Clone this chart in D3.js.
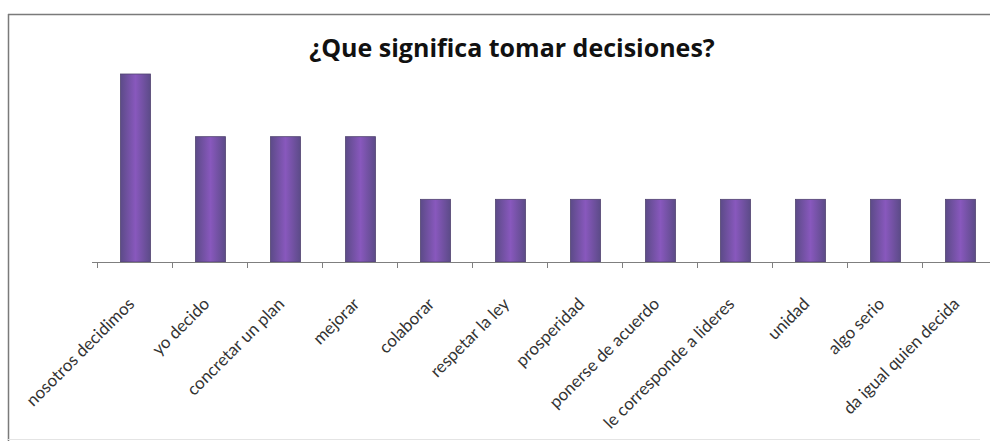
<!DOCTYPE html>
<html lang="es">
<head>
<meta charset="UTF-8">
<title>¿Que significa tomar decisiones?</title>
<script src="https://d3js.org/d3.v7.min.js"></script>
<style>
  body { margin: 0; background: #fff; }
  .label { font-family: Lato, "Open Sans", sans-serif; }
  .title { font-family: "Open Sans", sans-serif; }
</style>
</head>
<body>
<svg class="chart" width="990" height="447"></svg>
<script>
const categories = ['nosotros decidimos', 'yo decido', 'concretar un plan', 'mejorar', 'colaborar',
  'respetar la ley', 'prosperidad', 'ponerse de acuerdo', 'le corresponde a lideres', 'unidad',
  'algo serio', 'da igual quien decida']
const values = [3, 2, 2, 2, 1, 1, 1, 1, 1, 1, 1, 1]
const title = '¿Que significa tomar decisiones?'

const svg = d3.select('.chart')
const baseY = 262

// marco del grafico (arriba e izquierda marcados, abajo tenue)
svg.append('line')
  .attr('x1', 8).attr('x2', 990).attr('y1', 14.5).attr('y2', 14.5)
  .attr('stroke', '#7a7a7a').attr('stroke-width', 1.5)
svg.append('line')
  .attr('x1', 8.5).attr('x2', 8.5).attr('y1', 14).attr('y2', 441)
  .attr('stroke', '#7a7a7a').attr('stroke-width', 1.5)
svg.append('line')
  .attr('x1', 8).attr('x2', 980).attr('y1', 439.5).attr('y2', 439.5)
  .attr('stroke', '#e4e4e4')

// degradado de las barras
const grad = svg.append('defs').append('linearGradient')
  .attr('id', 'barGrad')
  .attr('x1', '0%').attr('x2', '100%').attr('y1', '0%').attr('y2', '0%')
grad.append('stop').attr('offset', '0%').attr('stop-color', '#5c4b88')
grad.append('stop').attr('offset', '50%').attr('stop-color', '#8858bd')
grad.append('stop').attr('offset', '100%').attr('stop-color', '#5c4b88')

const xScale = d3.scaleBand()
  .domain(categories)
  .range([97, 997])
  .paddingInner(0.6)
  .paddingOuter(0.3)

const yScale = d3.scaleLinear()
  .domain([0, 3])
  .range([baseY, 74])

const step = xScale.step()

// barras
svg.selectAll('rect.bar')
  .data(categories)
  .enter()
  .append('rect')
  .attr('class', 'bar')
  .attr('x', d => xScale(d) + 1)
  .attr('y', (d, i) => yScale(values[i]))
  .attr('width', xScale.bandwidth())
  .attr('height', (d, i) => baseY - yScale(values[i]))
  .attr('fill', 'url(#barGrad)')
  .attr('stroke', '#514470')
  .attr('stroke-width', 0.8)

// eje x
svg.append('line')
  .attr('x1', 92).attr('x2', 990)
  .attr('y1', baseY + 0.5).attr('y2', baseY + 0.5)
  .attr('stroke', '#7f7f7f')

const tickPos = categories.map(d => xScale(d) - step * 0.3)
svg.selectAll('line.tick')
  .data(tickPos)
  .enter()
  .append('line')
  .attr('class', 'tick')
  .attr('x1', d => Math.round(d) + 0.5).attr('x2', d => Math.round(d) + 0.5)
  .attr('y1', baseY).attr('y2', baseY + 6)
  .attr('stroke', '#7f7f7f')

// etiquetas
svg.selectAll('text.label')
  .data(categories)
  .enter()
  .append('text')
  .attr('class', 'label')
  .attr('text-anchor', 'end')
  .attr('transform', d => `translate(${xScale(d) + xScale.bandwidth() / 2 + 1},${baseY + 43}) rotate(-45)`)
  .attr('font-size', 17)
  .attr('fill', '#333')
  .text(d => d)

// titulo
svg.append('text')
  .attr('class', 'title')
  .attr('x', 512)
  .attr('y', 57)
  .attr('text-anchor', 'middle')
  .attr('font-size', 25)
  .attr('font-weight', 'bold')
  .attr('fill', '#111')
  .text(title)
</script>
</body>
</html>
